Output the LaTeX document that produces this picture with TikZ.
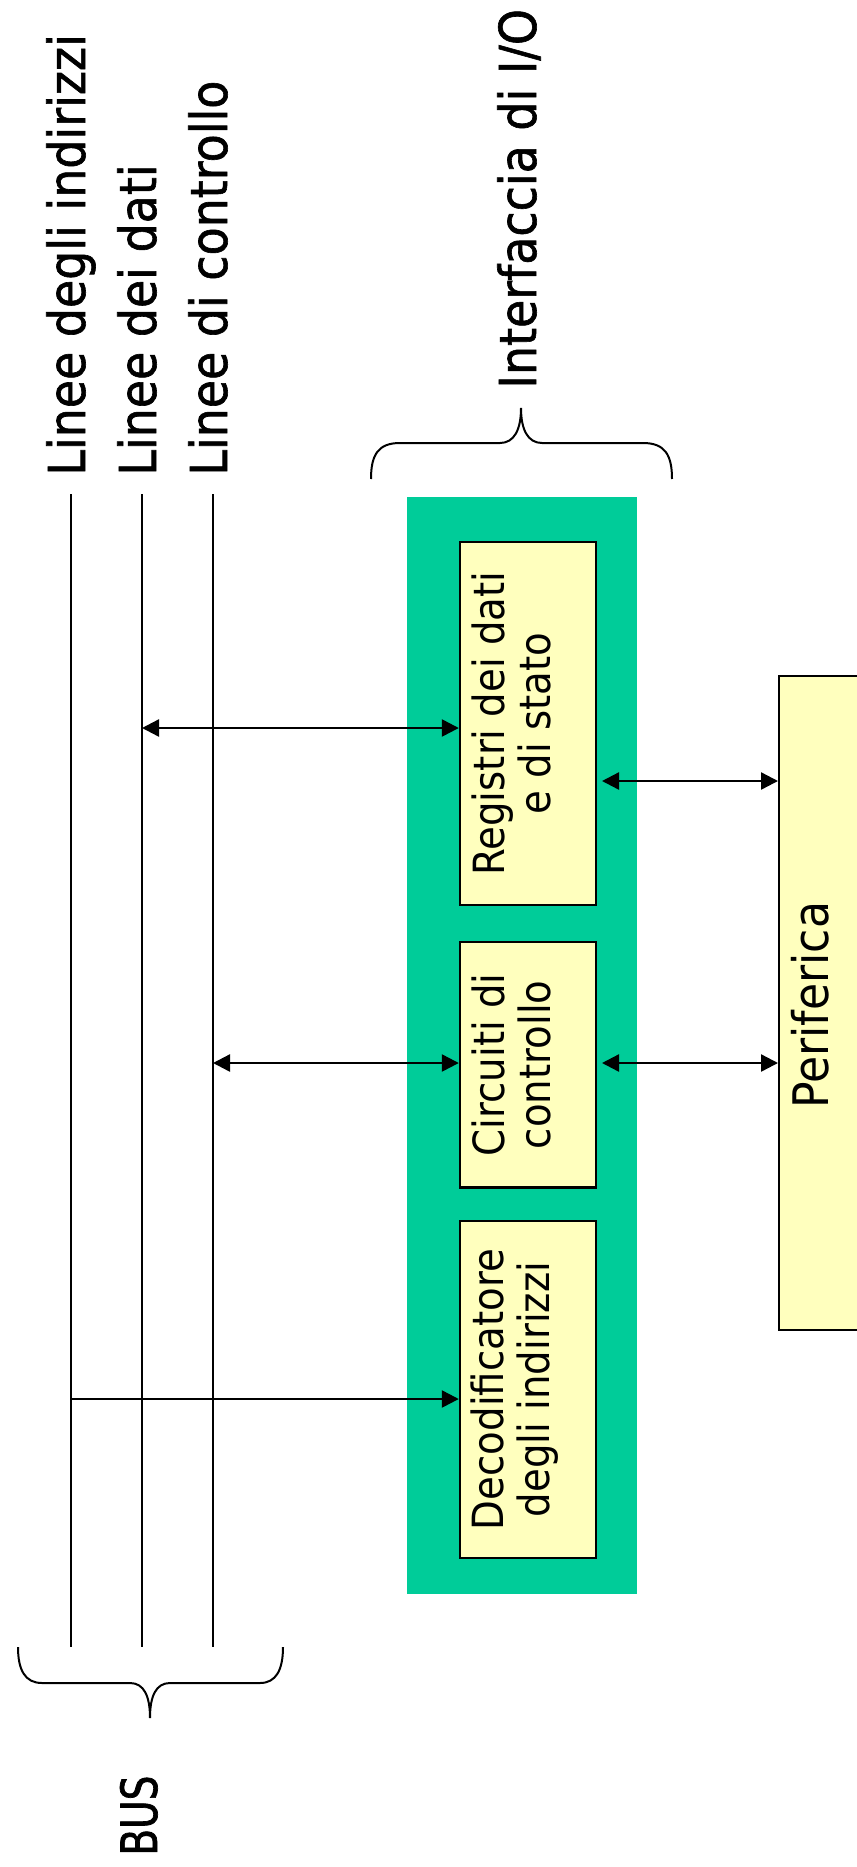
\documentclass[tikz,border=0pt]{standalone}
\usepackage{fontspec}
\setmainfont{DejaVu Sans}[FakeStretch=0.9]
\newfontfamily\lblfont{DejaVu Sans}[FakeStretch=0.9,FakeBold=1.2]
\newfontfamily\busfont{DejaVu Sans}[FakeStretch=0.78,FakeBold=1.4]
\usetikzlibrary{arrows.meta}
\definecolor{teal1}{RGB}{0,204,153}
\definecolor{ylw}{RGB}{255,255,190}
\tikzset{
  busline/.style={line width=1pt},
  conn/.style={line width=1.2pt,{Triangle[length=8.5pt,width=8.5pt]}-{Triangle[length=8.5pt,width=8.5pt]}},
  conn1/.style={line width=1.2pt,-{Triangle[length=8.5pt,width=8.5pt]}},
  lbl/.style={rotate=90,inner sep=0pt,font=\lblfont\fontsize{25.5}{30}\selectfont},
  boxtxt/.style={rotate=90,inner sep=0pt,align=center,font=\fontsize{21.5}{23}\selectfont},
  ybox/.style={draw,line width=1.2pt,fill=ylw,inner sep=0pt},
  brace/.style={line width=1pt},
}
\begin{document}
\begin{tikzpicture}[x=0.5pt,y=-0.5pt]
\useasboundingbox[fill=white] (0,0) rectangle (856,1867);
% bus lines
\coordinate (a1) at (71,494);  \coordinate (a2) at (71,1647);
\coordinate (d1) at (142,494); \coordinate (d2) at (142,1647);
\coordinate (c1) at (213,494); \coordinate (c2) at (213,1647);
\draw[busline] (a1) -- (a2);
\draw[busline] (d1) -- (d2);
\draw[busline] (c1) -- (c2);
% labels
\node[lbl,anchor=base west] (la) at (85,476) {Linee degli indirizzi};
\node[lbl,anchor=base west] (ld) at (156,476) {Linee dei dati};
\node[lbl,anchor=base west] (lc) at (227,476) {Linee di controllo};
\node[lbl,anchor=base west] (li) at (536,389) {Interfaccia di I/O};
\node[rotate=90,inner sep=0pt,anchor=base west,font=\busfont\fontsize{25}{30}\selectfont] (lbus) at (157,1856) {BUS};
% interface
\node[fill=teal1,inner sep=0pt,minimum width=115pt,minimum height=548.5pt] (iface) at (522,1045.5) {};
\node[ybox,minimum width=68pt,minimum height=181.5pt] (reg) at (528,723.5) {};
\node[ybox,minimum width=68pt,minimum height=122.75pt] (circ) at (528,1064.75) {};
\node[ybox,minimum width=68pt,minimum height=168.5pt] (dec) at (528,1389.5) {};
\node[ybox,minimum width=61pt,minimum height=327pt,anchor=north west] (per) at (778,675) {};
\node[boxtxt] (treg) at (511,723.5) {Registri dei dati\\e di stato};
\node[boxtxt] (tcirc) at (511,1064.75) {Circuiti di\\controllo};
\node[boxtxt] (tdec) at (514.5,1389.5) {Decodificatore\\degli indirizzi};
\node[rotate=90,inner sep=0pt,anchor=base west,font=\fontsize{24.5}{30}\selectfont] (tper) at (828,1109) {Periferica};
% connectors
\coordinate (pd) at (142,728);
\coordinate (pc) at (213,1063);
\coordinate (pa) at (71,1399);
\coordinate (rp) at (602,781);
\coordinate (cp) at (602,1063);
\draw[conn] (pd) -- (pd -| reg.west);
\draw[conn] (pc) -- (pc -| circ.west);
\draw[conn1] (pa) -- (pa -| dec.west);
\draw[conn] (rp) -- (rp -| per.west);
\draw[conn] (cp) -- (cp -| per.west);
% braces
\draw[brace] (371,479) .. controls (371,455) and (378,443) .. (400,443) -- (500,443)
  .. controls (514,443) and (521,430) .. (521,408)
  .. controls (521,430) and (528,443) .. (542,443) -- (643,443)
  .. controls (665,443) and (672,455) .. (672,479);
\draw[brace] (18,1647) .. controls (18,1670) and (25,1683) .. (42,1683) -- (130,1683)
  .. controls (144,1683) and (150,1696) .. (150,1718)
  .. controls (150,1696) and (156,1683) .. (170,1683) -- (260,1683)
  .. controls (276,1683) and (283,1670) .. (283,1647);
\end{tikzpicture}
\end{document}
